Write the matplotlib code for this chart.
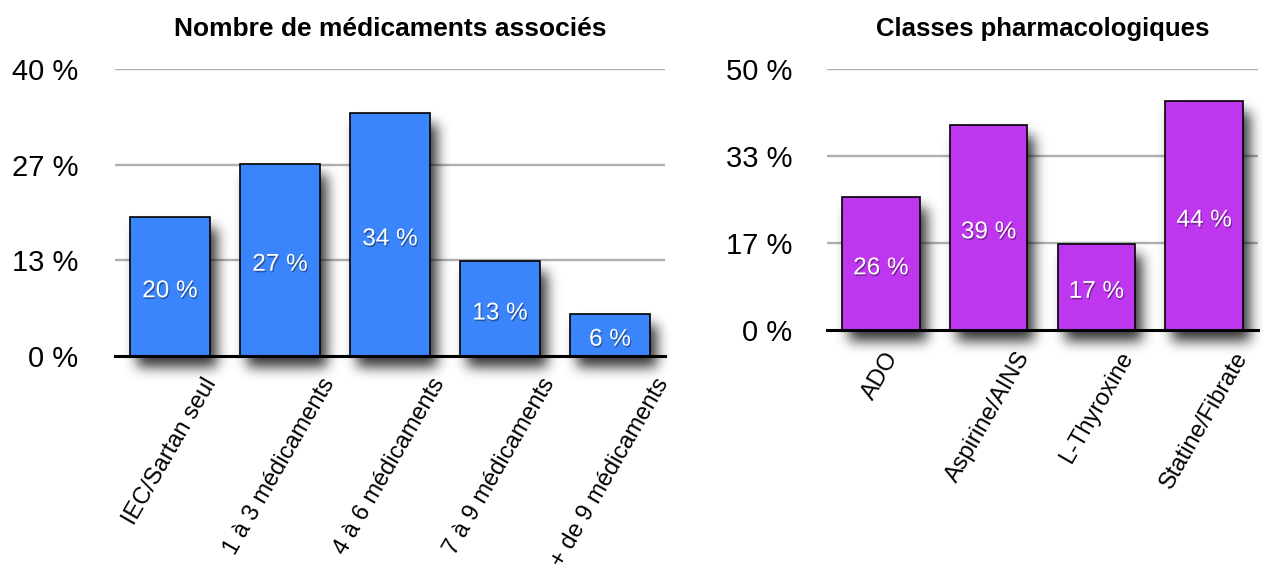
import numpy as np
import matplotlib
matplotlib.use("Agg")
import matplotlib.pyplot as plt
import matplotlib.patheffects as pe

plt.rcParams["font.family"] = ["Liberation Sans", "DejaVu Sans"]

# ------------------------------------------------------------------
# Data
# ------------------------------------------------------------------
left_title = "Nombre de médicaments associés"
left_categories = ["IEC/Sartan seul", "1 à 3 médicaments", "4 à 6 médicaments",
                   "7 à 9 médicaments", "+ de 9 médicaments"]
left_values = [19.4, 26.8, 33.9, 13.2, 5.9]
left_labels = ["20 %", "27 %", "34 %", "13 %", "6 %"]
left_ticks = [0, 40 / 3, 80 / 3, 40]
left_ticklabels = ["0 %", "13 %", "27 %", "40 %"]

right_title = "Classes pharmacologiques"
right_categories = ["ADO", "Aspirine/AINS", "L-Thyroxine", "Statine/Fibrate"]
right_values = [25.5, 39.3, 16.5, 43.8]
right_labels = ["26 %", "39 %", "17 %", "44 %"]
right_ticks = [0, 50 / 3, 100 / 3, 50]
right_ticklabels = ["0 %", "17 %", "33 %", "50 %"]

BLUE = "#3a85fb"
PURPLE = "#be37ef"

W, H = 1263, 569


def px_rect(x0, x1, ytop, ybot):
    """Axes rectangle from pixel coordinates (origin top-left)."""
    return [x0 / W, 1 - ybot / H, (x1 - x0) / W, (ybot - ytop) / H]


def gauss_blur(img, sigma):
    r = int(3 * sigma)
    k = np.exp(-0.5 * (np.arange(-r, r + 1) / sigma) ** 2)
    k /= k.sum()
    img = np.apply_along_axis(lambda m: np.convolve(m, k, mode="same"), 0, img)
    img = np.apply_along_axis(lambda m: np.convolve(m, k, mode="same"), 1, img)
    return img


def draw_shadow(fig, ax, bars, dx=7, dy=11, sigma=6.5, strength=0.8):
    """Soft drop shadow: blurred bar mask drawn over the whole figure."""
    mask = np.zeros((H, W))
    for b in bars:
        (x0, y0), (x1, y1) = ax.transData.transform(
            [(b.get_x(), b.get_y()),
             (b.get_x() + b.get_width(), b.get_y() + b.get_height())])
        c0, c1 = int(round(x0 + dx)), int(round(x1 + dx))
        r0, r1 = int(round(H - y1 + dy)), int(round(H - y0 + dy))
        mask[max(r0, 0):min(r1, H), max(c0, 0):min(c1, W)] = 1
    mask = gauss_blur(mask, sigma)
    rgba = np.zeros((H, W, 4))
    rgba[..., 3] = np.clip(mask * strength, 0, 1)
    xl, yl = ax.get_xlim(), ax.get_ylim()
    ax.imshow(rgba, extent=(0, 1, 0, 1), transform=fig.transFigure,
              aspect="auto", interpolation="nearest", zorder=2,
              clip_on=False)
    ax.set_xlim(xl)
    ax.set_ylim(yl)


def panel(fig, ax, title, cats, values, labels, ticks, ticklabels, color,
          ypad, tsize):
    n = len(cats)
    x = np.arange(n)
    ax.set_xlim(-0.5, n - 0.5)
    ax.set_ylim(ticks[0], ticks[-1])

    for t in ticks[1:]:
        ax.axhline(t, color="#b0b0b0", linewidth=1.7, zorder=0.5)

    bars = ax.bar(x, values, width=0.72, color=color, edgecolor="black",
                  linewidth=1.2, zorder=3)
    draw_shadow(fig, ax, bars)
    ax.axhline(0, color="black", linewidth=2.2, zorder=4, clip_on=False)

    for xi, v, lab in zip(x, values, labels):
        ax.annotate(lab, (xi, v / 2), xytext=(0, -3.5),
                    textcoords="offset points", ha="center", va="center",
                    color="white", fontsize=17.5, zorder=5,
                    path_effects=[pe.withSimplePatchShadow(
                        offset=(0.8, -1.2), shadow_rgbFace="black",
                        alpha=0.35)])

    ax.set_yticks(ticks)
    ax.set_yticklabels(ticklabels)
    ax.set_xticks(x)
    ax.set_xticklabels(cats, rotation=60, ha="center", va="top")
    ax.tick_params(axis="y", length=0, pad=ypad, labelsize=21)
    ax.tick_params(axis="x", length=0, pad=13, labelsize=17)
    for s in ax.spines.values():
        s.set_visible(False)
    ax.set_title(title, fontsize=tsize, fontweight="bold", pad=24)


fig = plt.figure(figsize=(W / 100, H / 100), dpi=100)
ax1 = fig.add_axes(px_rect(115, 665, 69, 356))
ax2 = fig.add_axes(px_rect(827, 1258, 69, 330))

panel(fig, ax1, left_title, left_categories, left_values, left_labels,
      left_ticks, left_ticklabels, BLUE, 26.5, 19)
panel(fig, ax2, right_title, right_categories, right_values, right_labels,
      right_ticks, right_ticklabels, PURPLE, 25, 18.5)

fig.savefig("out.png", dpi=100)
